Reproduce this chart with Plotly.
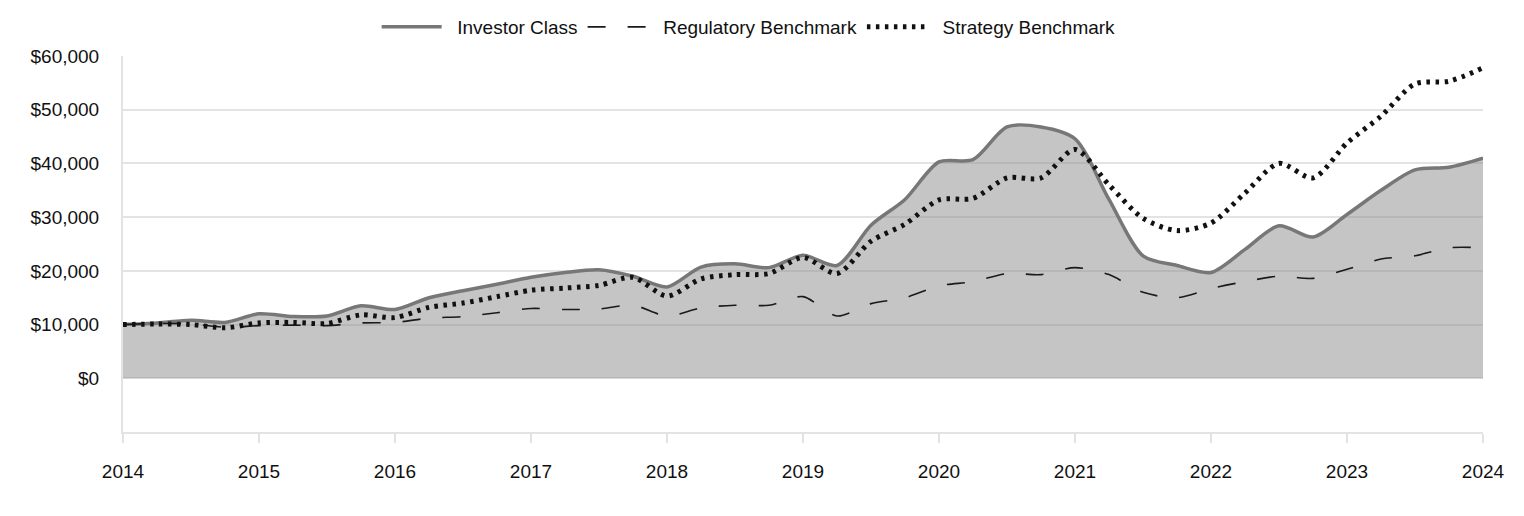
import plotly.graph_objects as go

# Quarterly observations, 2014 Q0 .. 2024 Q0
periods = [2014 + q / 4 for q in range(41)]

investor_class = [
    10000, 10300, 10800, 10400, 12000, 11500, 11600, 13500, 12800, 15000,
    16300, 17500, 18800, 19700, 20200, 19000, 17000, 20700, 21300, 20600,
    22900, 21000, 28500, 33300, 40300, 40700, 46800, 46800, 44600, 33300,
    22800, 21000, 19700, 24000, 28400, 26300, 30500, 35000, 38800, 39300,
    41000,
]

regulatory_benchmark = [
    10000, 10200, 10100, 9500, 9800, 9900, 9800, 10300, 10400, 11200,
    11500, 12200, 13000, 12800, 12900, 13600, 11600, 13100, 13600, 13600,
    15200, 11600, 13900, 15000, 17200, 18000, 19500, 19300, 20600, 19300,
    16000, 15000, 16700, 18000, 19000, 18600, 20300, 22200, 22800, 24300,
    24300,
]

strategy_benchmark = [
    10000, 10100, 10000, 9400, 10300, 10400, 10200, 11800, 11300, 13200,
    14000, 15200, 16400, 16800, 17300, 18800, 15300, 18500, 19300, 19500,
    22500, 19500, 25500, 28700, 33200, 33500, 37300, 37300, 42600, 36000,
    29800, 27500, 28900, 34500, 40000, 37300, 43800, 48800, 54800, 55300,
    57800,
]

y_ticks = [0, 10000, 20000, 30000, 40000, 50000, 60000]
y_labels = ["$0", "$10,000", "$20,000", "$30,000", "$40,000", "$50,000", "$60,000"]
x_ticks = list(range(2014, 2025))
x_labels = [str(y) for y in x_ticks]

FONT = "Liberation Sans, Arial, sans-serif"
GRID = "#e3e3e3"
NB = "\u00a0\u00a0"
FS = 19

fig = go.Figure()

# shaded area under the Investor Class line (no legend entry)
fig.add_trace(go.Scatter(
    x=periods, y=investor_class, showlegend=False, hoverinfo="skip",
    mode="lines", line=dict(width=0, shape="spline", smoothing=0.8),
    fill="tozeroy", fillcolor="rgba(140,140,140,0.5)",
))
fig.add_trace(go.Scatter(
    x=periods, y=investor_class, name=NB + "Investor Class",
    mode="lines", line=dict(color="#777777", width=3.5, shape="spline", smoothing=0.8),
))
fig.add_trace(go.Scatter(
    x=periods, y=regulatory_benchmark, name=NB + "Regulatory Benchmark",
    mode="lines", line=dict(color="#1a1a1a", width=1.6, dash="18px,22px", shape="spline", smoothing=0.8),
))
fig.add_trace(go.Scatter(
    x=periods, y=strategy_benchmark, name=NB + "Strategy Benchmark",
    mode="lines", line=dict(color="#111111", width=5, dash="3.5px,5.5px", shape="spline", smoothing=0.8),
))

fig.update_layout(
    width=1524, height=516,
    margin=dict(l=115, r=49, t=48, b=92, autoexpand=False),
    paper_bgcolor="white", plot_bgcolor="white",
    font=dict(family=FONT, size=FS, color="#111111"),
    showlegend=True,
    legend=dict(
        orientation="h", xref="container", yref="container",
        x=0.486, xanchor="center", y=1.0, yanchor="top",
        font=dict(family=FONT, size=FS, color="#111111"),
        itemwidth=60, tracegroupgap=0,
    ),
    xaxis=dict(
        range=[2014, 2024], tickmode="array", tickvals=x_ticks, ticktext=x_labels,
        showgrid=False, zeroline=False, automargin=False,
        showline=True, linecolor=GRID, linewidth=2,
        ticks="outside", ticklen=9, tickwidth=2, tickcolor=GRID,
        ticklabelstandoff=12,
        tickfont=dict(family=FONT, size=FS, color="#111111"),
    ),
    yaxis=dict(
        range=[-10000, 60000], tickmode="array", tickvals=y_ticks, ticktext=y_labels,
        showgrid=True, gridcolor=GRID, gridwidth=2, zeroline=False, automargin=False,
        showline=True, linecolor=GRID, linewidth=2,
        ticks="", ticklabelstandoff=18,
        tickfont=dict(family=FONT, size=FS, color="#111111"),
    ),
)

fig.write_html("out.html")
